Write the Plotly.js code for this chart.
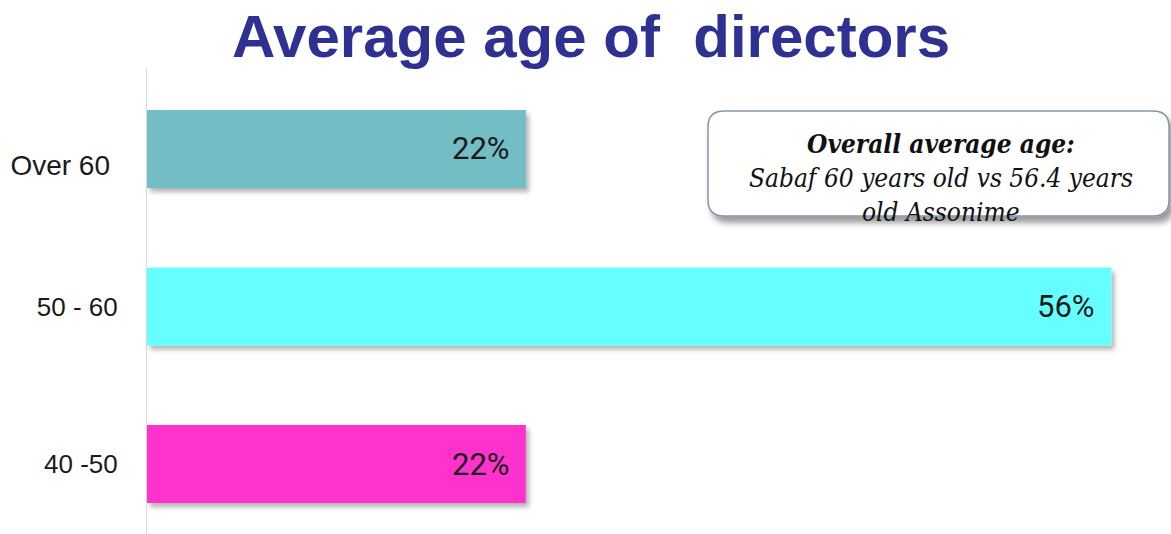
<!DOCTYPE html>
<html>
<head>
<meta charset="utf-8">
<script src="https://cdn.plot.ly/plotly-3.0.1.min.js"></script>
<style>
html,body{margin:0;padding:0;background:#fff;}
#chart{width:1171px;height:534px;}
</style>
</head>
<body>
<div id="chart"></div>
<script>
// ---- data ----
const categories = ['40 -50', '50 - 60', 'Over 60'];
const tickLabels = ['40 -50', '50 - 60', '\u00a0<br><span style="font-size:28px">Over 60\u00a0</span>'];
const values = [22, 56, 22];
const barColors = ['#FF33CC', '#66FFFF', '#72BEC4'];
const titleText = 'Average age of  directors';
const noteLines = ['Overall average age:', 'Sabaf 60 years old vs 56.4 years', 'old Assonime'];

// ---- geometry helpers (pixel -> paper) ----
const W = 1171, H = 534, ML = 147, MR = 0, MT = 68, MB = 0;
const PW = W - ML - MR, PH = H - MT - MB;
const px = x => (x - ML) / PW;
const py = y => (H - MB - y) / PH;

function roundRect(x0, y0, x1, y1, r) {
  const P = (x, y) => px(x).toFixed(5) + ',' + py(y).toFixed(5);
  return 'M' + P(x0 + r, y0) + ' L' + P(x1 - r, y0) + ' Q' + P(x1, y0) + ' ' + P(x1, y0 + r) +
    ' L' + P(x1, y1 - r) + ' Q' + P(x1, y1) + ' ' + P(x1 - r, y1) +
    ' L' + P(x0 + r, y1) + ' Q' + P(x0, y1) + ' ' + P(x0, y1 - r) +
    ' L' + P(x0, y0 + r) + ' Q' + P(x0, y0) + ' ' + P(x0 + r, y0) + ' Z';
}

const trace = {
  type: 'bar',
  orientation: 'h',
  y: categories,
  x: values,
  marker: {color: barColors, line: {width: 0}},
  hoverinfo: 'none'
};

const barLabelAnnotations = categories.map((c, i) => ({
  xref: 'x', yref: 'y', x: values[i], y: c,
  text: values[i] + '%', showarrow: false,
  xanchor: 'right', yanchor: 'middle', xshift: -14,
  font: {family: 'Roboto, Liberation Sans, sans-serif', size: 31, color: '#1a1a1a'}
}));

const noteY = [144, 178, 212];
const noteAnnotations = noteLines.map((t, i) => ({
  xref: 'paper', yref: 'paper', x: px(941), y: py(noteY[i]),
  text: t, showarrow: false, xanchor: 'center', yanchor: 'middle',
  font: {family: 'DejaVu Serif Condensed, DejaVu Serif, serif', size: 26, color: '#111',
         style: 'italic', weight: i === 0 ? 'bold' : 'normal'}
}));

const layout = {
  width: W, height: H,
  margin: {l: ML, r: MR, t: MT, b: MB, pad: 0},
  paper_bgcolor: '#ffffff', plot_bgcolor: '#ffffff',
  showlegend: false,
  bargap: 0.505,
  title: {
    text: titleText,
    font: {family: 'Liberation Sans, Arial, sans-serif', size: 60, weight: 'bold', color: '#2E3192'},
    xref: 'container', yref: 'container',
    x: 591 / W, xanchor: 'center',
    y: 1 - 36 / H, yanchor: 'middle'
  },
  xaxis: {range: [0, PW / 17.22], visible: false, fixedrange: true},
  yaxis: {
    type: 'category', range: [-0.444, 2.514],
    tickvals: categories, ticktext: tickLabels,
    showline: true, linecolor: '#d9d9d9', linewidth: 1,
    showgrid: false, zeroline: false, ticks: '', ticklabelstandoff: 23,
    tickfont: {family: 'Liberation Sans, Arial, sans-serif', size: 26, color: '#1a1a1a'},
    fixedrange: true
  },
  shapes: [{
    type: 'path', xref: 'paper', yref: 'paper', layer: 'above',
    path: roundRect(708, 111, 1169, 216, 16),
    fillcolor: '#ffffff', line: {color: '#8496AE', width: 1.5}
  }],
  annotations: barLabelAnnotations.concat(noteAnnotations)
};

Plotly.newPlot('chart', [trace], layout, {staticPlot: true, displayModeBar: false}).then(gd => {
  const ns = 'http://www.w3.org/2000/svg';
  const svg = gd.querySelector('svg.main-svg');
  let defs = svg.querySelector('defs');
  if (!defs) { defs = document.createElementNS(ns, 'defs'); svg.insertBefore(defs, svg.firstChild); }
  const mk = (id, dx, dy, sd, op) => {
    const f = document.createElementNS(ns, 'filter');
    f.setAttribute('id', id);
    f.setAttribute('x', '-20%'); f.setAttribute('y', '-30%');
    f.setAttribute('width', '140%'); f.setAttribute('height', '170%');
    const d = document.createElementNS(ns, 'feDropShadow');
    d.setAttribute('dx', dx); d.setAttribute('dy', dy);
    d.setAttribute('stdDeviation', sd);
    d.setAttribute('flood-color', '#000'); d.setAttribute('flood-opacity', op);
    f.appendChild(d); defs.appendChild(f);
  };
  mk('barShadow', 3, 4, 2.5, 0.3);
  mk('boxShadow', 4, 6, 3, 0.4);
  gd.querySelectorAll('.barlayer .point path').forEach(p => p.setAttribute('filter', 'url(#barShadow)'));
  gd.querySelectorAll('.shapelayer path').forEach(p => p.setAttribute('filter', 'url(#boxShadow)'));
});
</script>
</body>
</html>
